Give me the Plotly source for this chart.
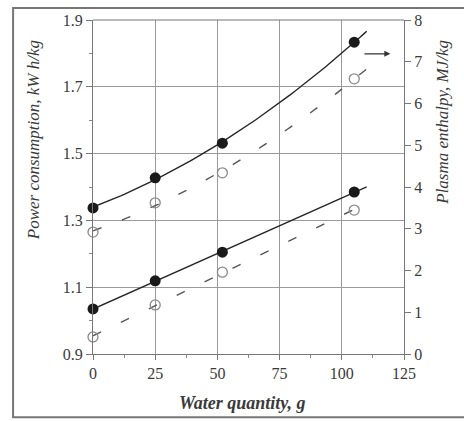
import numpy as np
import plotly.graph_objects as go

# Data
water_g = [0, 25, 52, 105]
# Plasma enthalpy (right axis), MJ/kg
enthalpy_filled = [3.50, 4.22, 5.05, 7.47]
enthalpy_open = [2.92, 3.62, 4.34, 6.59]
# Power consumption (left axis), kW h/kg
power_filled = [1.035, 1.119, 1.205, 1.385]
power_open = [0.951, 1.047, 1.145, 1.331]

x_ticks = [0, 25, 50, 75, 100, 125]
y_left_ticks = [0.9, 1.1, 1.3, 1.5, 1.7, 1.9]
y_right_ticks = [0, 1, 2, 3, 4, 5, 6, 7, 8]
fit_x_max = 110

font_serif = "Liberation Serif, Times New Roman, serif"
line_col = "#262626"
grid_col = "#9a9a9a"

xs = np.linspace(0, fit_x_max, 80)


def fit(y, deg=2):
    c = np.polyfit(water_g, y, deg)
    return np.polyval(c, xs)


fig = go.Figure()

# fitted lines
fig.add_trace(go.Scatter(x=xs, y=fit(enthalpy_filled), yaxis="y2", mode="lines",
                         line=dict(color=line_col, width=1.4), hoverinfo="skip"))
fig.add_trace(go.Scatter(x=xs, y=fit(enthalpy_open), yaxis="y2", mode="lines",
                         line=dict(color="#555", width=1.4, dash="9px,22px"), hoverinfo="skip"))
fig.add_trace(go.Scatter(x=xs, y=fit(power_filled, 1), mode="lines",
                         line=dict(color=line_col, width=1.4), hoverinfo="skip"))
fig.add_trace(go.Scatter(x=xs, y=fit(power_open, 1), mode="lines",
                         line=dict(color="#555", width=1.4, dash="9px,22px"), hoverinfo="skip"))

# markers
fig.add_trace(go.Scatter(x=water_g, y=enthalpy_open, yaxis="y2", mode="markers", cliponaxis=False,
                         marker=dict(symbol="circle-open", size=10, color="#8a8a8a", line=dict(width=1.3))))
fig.add_trace(go.Scatter(x=water_g, y=enthalpy_filled, yaxis="y2", mode="markers", cliponaxis=False,
                         marker=dict(symbol="circle", size=11, color="#1a1a1a")))
fig.add_trace(go.Scatter(x=water_g, y=power_open, mode="markers", cliponaxis=False,
                         marker=dict(symbol="circle-open", size=10, color="#8a8a8a", line=dict(width=1.3))))
fig.add_trace(go.Scatter(x=water_g, y=power_filled, mode="markers", cliponaxis=False,
                         marker=dict(symbol="circle", size=11, color="#1a1a1a")))

tickfont = dict(family=font_serif, size=16, color="#3a3a3a")
titlefont = dict(family=font_serif, size=17, color="#3a3a3a", style="italic")

fig.update_layout(
    width=464, height=421,
    margin=dict(l=93, r=60, t=20, b=67, autoexpand=False),
    paper_bgcolor="white", plot_bgcolor="white",
    showlegend=False,
    xaxis=dict(range=[0, 125], tickvals=x_ticks, showgrid=True, gridcolor=grid_col, gridwidth=1,
               zeroline=False, showline=True, linecolor="#777", linewidth=1, mirror=False,
               automargin=False,
               ticks="outside", ticklen=5, tickcolor="#777", tickfont=tickfont,
               minor=dict(dtick=12.5, ticks="outside", ticklen=3, tickcolor="#888", showgrid=False)),
    yaxis=dict(range=[0.9, 1.9], tickvals=y_left_ticks, tickformat=".1f", showgrid=True,
               gridcolor=grid_col, automargin=False,
               gridwidth=1, zeroline=False, showline=True, linecolor="#777", linewidth=1,
               ticks="outside", ticklen=6, tickcolor="#777", tickfont=tickfont,
               minor=dict(dtick=0.1, tick0=0.9, ticks="outside", ticklen=3, tickcolor="#888",
                          showgrid=False)),
    yaxis2=dict(range=[0, 8], tickvals=y_right_ticks, overlaying="y", side="right", showgrid=False,
                zeroline=False, automargin=False,
                showline=True, linecolor="#777", linewidth=1, ticks="outside", ticklen=6,
                tickcolor="#777", tickfont=tickfont),
    annotations=[
        dict(text="Power consumption, kW h/kg", xref="paper", yref="paper", x=-0.193, y=0.64,
             textangle=-90, showarrow=False, font=titlefont, xanchor="center", yanchor="middle"),
        dict(text="Plasma enthalpy, MJ/kg", xref="paper", yref="paper", x=1.125, y=0.695,
             textangle=-90, showarrow=False, font=titlefont, xanchor="center", yanchor="middle"),
        dict(text="<b>Water quantity, g</b>", xref="paper", yref="paper", x=0.48, y=-0.147,
             showarrow=False, font=dict(family=font_serif, size=18, color="#3a3a3a", style="italic"),
             xanchor="center", yanchor="middle"),
        dict(text="", x=119.5, y=7.19, xref="x", yref="y2", ax=108.5, ay=7.19, axref="x", ayref="y2",
             showarrow=True, arrowhead=2, arrowsize=1, arrowwidth=1.2, arrowcolor="#333"),
    ],
    shapes=[
        dict(type="rect", xref="paper", yref="paper", x0=-0.257, x1=1.25, y0=-0.189, y1=1.036,
             line=dict(color="#777", width=2), fillcolor="rgba(0,0,0,0)", layer="above"),
        dict(type="line", xref="paper", yref="paper", x0=0, x1=1, y0=1, y1=1,
             line=dict(color="#777", width=1)),
    ],
)

fig.write_html("out.html", config={"displayModeBar": False},
               post_script="document.body.style.margin='0';document.body.style.overflow='hidden';")
